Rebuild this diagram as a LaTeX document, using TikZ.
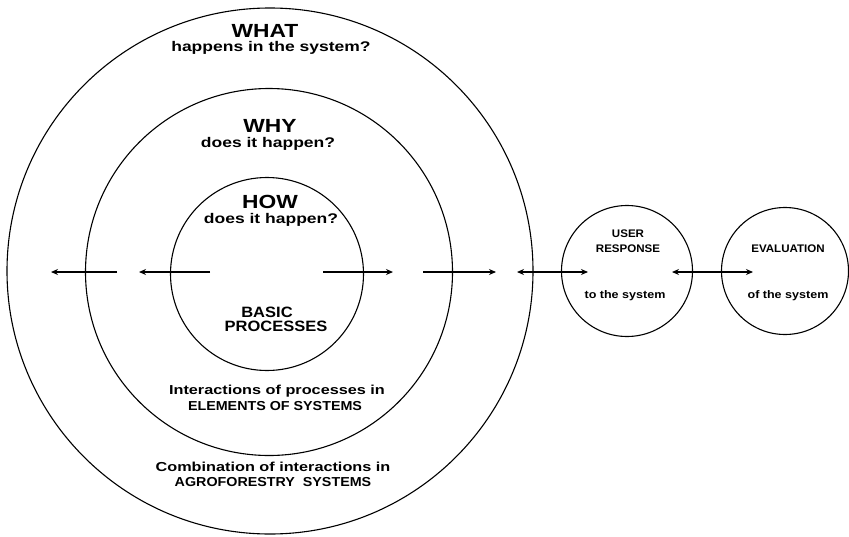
\documentclass[tikz,border=0pt]{standalone}
\usepackage{fontspec}
\setmainfont{Liberation Sans}
\usetikzlibrary{arrows.meta}
\tikzset{
  ring/.style={draw, circle, line width=1.1pt, inner sep=0pt},
  big/.style={font=\fontsize{19}{19}\selectfont\bfseries, inner sep=0pt, xscale=1.2},
  sub/.style={font=\fontsize{14}{14}\selectfont\bfseries, inner sep=0pt, xscale=1.25},
  caps/.style={font=\fontsize{15}{15}\selectfont\bfseries, inner sep=0pt, xscale=1.1},
  lab/.style={font=\fontsize{13}{13}\selectfont\bfseries, inner sep=0pt, xscale=1.25},
  labcaps/.style={font=\fontsize{13}{13}\selectfont\bfseries, inner sep=0pt, xscale=1.1},
  small/.style={font=\fontsize{11}{11}\selectfont\bfseries, inner sep=0pt, xscale=1.14},
  smallcaps/.style={font=\fontsize{11}{11}\selectfont\bfseries, inner sep=0pt, xscale=1.05},
  arr/.style={line width=1.3pt, -{Stealth[length=7pt,width=6pt]}},
  darr/.style={line width=1.3pt, {Stealth[length=7pt,width=6pt]}-{Stealth[length=7pt,width=6pt]}}
}
\begin{document}
\begin{tikzpicture}[x=1pt,y=-1pt]
\useasboundingbox (0,0) rectangle (849,536);
\node[ring, minimum size=526pt] (outer) at (270,271) {};
\node[ring, minimum size=367pt] (middle) at (269,272) {};
\node[ring, minimum size=193pt] (inner) at (267,274) {};
\node[ring, minimum size=131pt] (user) at (627,271) {};
\node[ring, minimum size=127pt] (eval) at (785,271) {};

\node[big] (what) at (265,31) {WHAT};
\node[sub] (whatsub) at (271,48) {happens in the system?};
\node[big] (why) at (270,126) {WHY};
\node[sub] (whysub) at (268,144) {does it happen?};
\node[big] (how) at (270,202) {HOW};
\node[sub] (howsub) at (271,220) {does it happen?};
\node[caps] (basic1) at (267,312) {BASIC};
\node[caps] (basic2) at (276,326) {PROCESSES};
\node[lab] (int1) at (277,391) {Interactions of processes in};
\node[labcaps] (int2) at (275,406) {ELEMENTS OF SYSTEMS};
\node[lab] (comb1) at (273,467) {Combination of interactions in};
\node[labcaps] (comb2) at (273,482) {AGROFORESTRY\ \ SYSTEMS};
\node[smallcaps] (user1) at (628,234) {USER};
\node[smallcaps] (user2) at (628,249) {RESPONSE};
\node[small] (user3) at (625,296) {to the system};
\node[smallcaps] (eval1) at (788,249) {EVALUATION};
\node[small] (eval2) at (788,296) {of the system};

\coordinate (a1s) at (117,272); \coordinate (a1e) at (51,272);
\coordinate (a2s) at (210,272); \coordinate (a2e) at (139,272);
\coordinate (a3s) at (323,272); \coordinate (a3e) at (393,272);
\coordinate (a4s) at (423,272); \coordinate (a4e) at (496,272);
\coordinate (a5s) at (517,272); \coordinate (a5e) at (588,272);
\coordinate (a6s) at (672,272); \coordinate (a6e) at (753,272);
\draw[arr] (a1s) -- (a1e);
\draw[arr] (a2s) -- (a2e);
\draw[arr] (a3s) -- (a3e);
\draw[arr] (a4s) -- (a4e);
\draw[darr] (a5s) -- (a5e);
\draw[darr] (a6s) -- (a6e);
\end{tikzpicture}
\end{document}
